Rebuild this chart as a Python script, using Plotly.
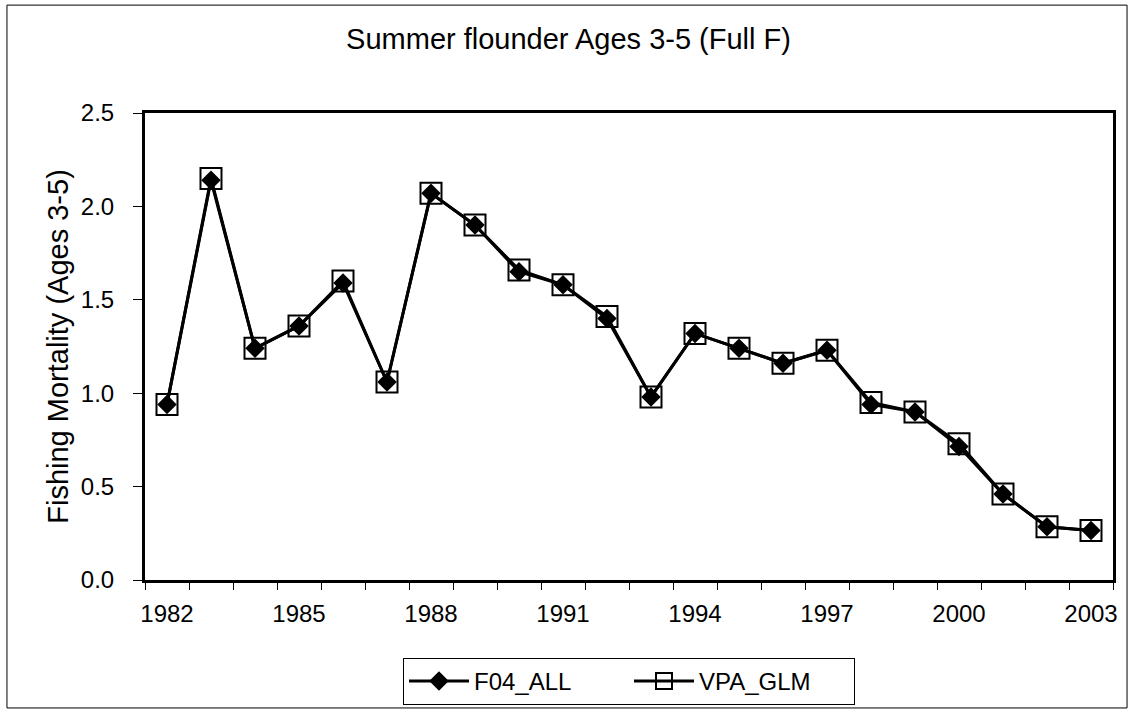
import plotly.graph_objects as go

years = list(range(1982, 2004))
f04_all = [0.94, 2.14, 1.24, 1.36, 1.59, 1.06, 2.07, 1.90, 1.65, 1.58, 1.40,
           0.98, 1.32, 1.24, 1.16, 1.23, 0.94, 0.90, 0.715, 0.46, 0.285, 0.265]
vpa_glm = [0.94, 2.15, 1.24, 1.36, 1.60, 1.06, 2.07, 1.90, 1.66, 1.58, 1.41,
           0.98, 1.32, 1.24, 1.16, 1.23, 0.95, 0.90, 0.73, 0.46, 0.285, 0.265]
label_years = [1982, 1985, 1988, 1991, 1994, 1997, 2000, 2003]
y_ticks = [0.0, 0.5, 1.0, 1.5, 2.0, 2.5]

FONT = "Liberation Sans, Arial, sans-serif"

fig = go.Figure()
fig.add_trace(go.Scatter(
    x=years, y=vpa_glm, name="VPA_GLM", mode="lines+markers",
    line=dict(color="black", width=3),
    marker=dict(symbol="square-open", size=21, color="black", line=dict(width=2)),
    legendrank=2,
))
fig.add_trace(go.Scatter(
    x=years, y=f04_all, name="F04_ALL", mode="lines+markers",
    line=dict(color="black", width=3),
    marker=dict(symbol="diamond", size=15, color="black"),
    legendrank=1,
))

fig.update_layout(
    width=1128, height=709,
    margin=dict(l=145, r=15, t=113, b=129, autoexpand=False),
    paper_bgcolor="white", plot_bgcolor="white",
    font=dict(family=FONT, color="black", size=24),
    title=dict(text="Summer flounder Ages 3-5 (Full F)", x=0.504, xanchor="center",
               y=0.945, yanchor="middle", yref="container",
               font=dict(family=FONT, size=29, color="black")),
    showlegend=True,
    legend=dict(orientation="h", x=0.5, xanchor="center", y=-0.167, yanchor="top",
                bordercolor="black", borderwidth=1, bgcolor="white",
                font=dict(family=FONT, size=24, color="black"),
                traceorder="normal", entrywidth=150, itemwidth=60),
    xaxis=dict(
        range=[1981.5, 2003.5], tickmode="array", tickvals=label_years,
        ticktext=[str(v) for v in label_years], ticks="",
        ticklabelstandoff=10, automargin=False,
        showline=True, linecolor="black", linewidth=3, mirror=True,
        showgrid=False, zeroline=False,
        tickfont=dict(family=FONT, size=24, color="black"),
        minor=dict(tick0=1981.5, dtick=1, ticks="outside", ticklen=7,
                   tickwidth=1, tickcolor="black", showgrid=False),
    ),
    yaxis=dict(
        range=[0, 2.5], tickmode="array", tickvals=y_ticks,
        ticktext=[f"{v:.1f}" for v in y_ticks],
        ticks="outside", ticklen=9, tickwidth=1, tickcolor="black",
        ticklabelstandoff=14, automargin=False,
        showline=True, linecolor="black", linewidth=3, mirror=True,
        showgrid=False, zeroline=False,
        tickfont=dict(family=FONT, size=24, color="black"),
        title=dict(text="Fishing Mortality (Ages 3-5)", standoff=4,
                   font=dict(family=FONT, size=29, color="black")),
    ),
)

# outer chart border
fig.add_shape(type="rect", xref="paper", yref="paper",
              x0=-0.1426, x1=1.0145, y0=-0.274, y1=1.231,
              line=dict(color="black", width=1), fillcolor="rgba(0,0,0,0)",
              layer="below")

fig.write_html("out.html", config={"displayModeBar": False},
               post_script="document.body.style.margin='0';document.body.style.padding='0';")
